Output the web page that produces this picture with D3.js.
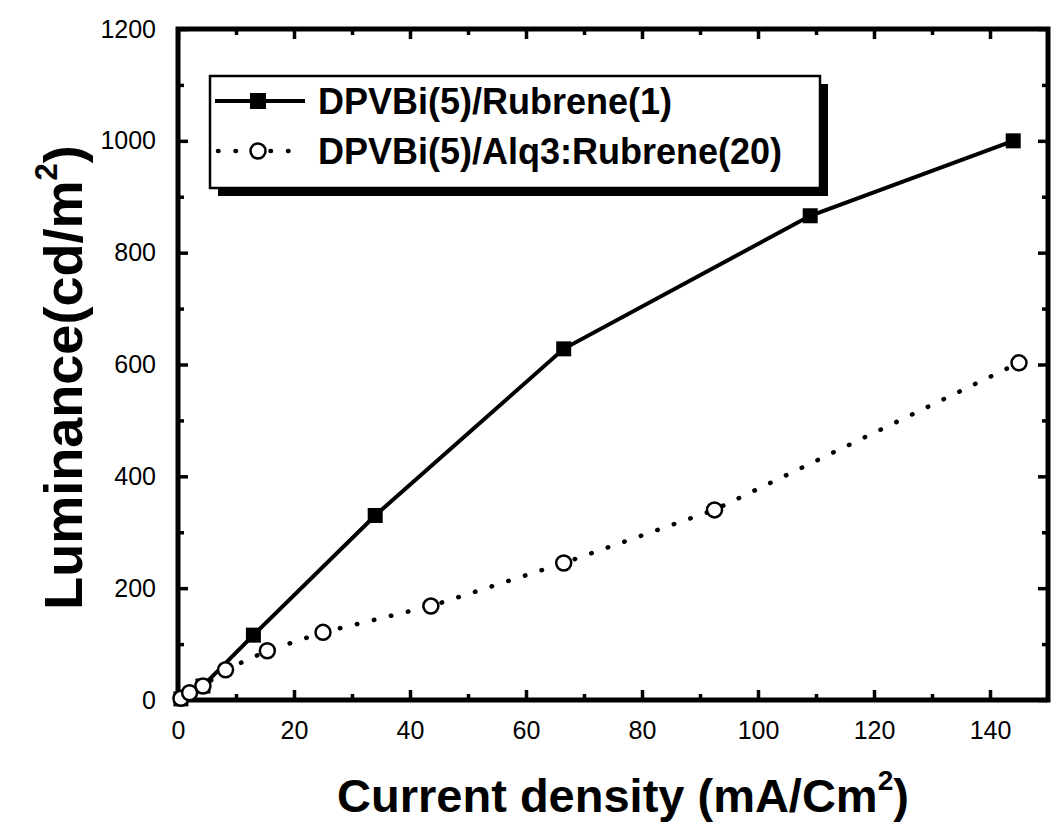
<!DOCTYPE html>
<html>
<meta charset="utf-8" />
<script src="https://d3js.org/d3.v7.min.js"></script>

<body>

    <style>
        body,
        html {
            margin: 0;
            padding: 0;
            background: #fff;
            overflow: hidden;
        }

        svg text {
            font-family: "Liberation Sans", Arial, sans-serif;
            fill: #000;
        }

        .tick text {
            font-size: 25px;
        }
    </style>

    <svg id="chart"></svg>

    <script>
        // values
        var rubreneX = [0.5, 4.3, 13, 34, 66.5, 109, 144];
        var rubreneY = [2, 25, 116, 330, 628, 866, 1000];
        var alqX = [0.5, 2, 4.3, 8.2, 15.4, 25, 43.6, 66.5, 92.5, 145];
        var alqY = [3, 13, 25, 54, 88, 121, 168, 245, 340, 603];

        var xTicks = [0, 20, 40, 60, 80, 100, 120, 140];
        var xMinor = [10, 30, 50, 70, 90, 110, 130];
        var yTicks = [0, 200, 400, 600, 800, 1000, 1200];
        var yMinor = [100, 300, 500, 700, 900, 1100];

        var seriesNames = ["DPVBi(5)/Rubrene(1)", "DPVBi(5)/Alq3:Rubrene(20)"];

        var width = 1051, height = 823;
        var margins = { top: 29, left: 178, bottom: 123, right: 3 };

        var svg = d3.select("#chart")
            .attr("width", width)
            .attr("height", height);

        var x = d3.scaleLinear().domain([0, 150]).range([margins.left, width - margins.right]);
        var y = d3.scaleLinear().domain([0, 1200]).range([height - margins.bottom, margins.top]);

        var x0 = x.range()[0], x1 = x.range()[1];
        var y0 = y.range()[0], y1 = y.range()[1];

        function styleAxis(g) {
            g.select(".domain").remove();
            g.selectAll(".tick line").attr("stroke", "#000").attr("stroke-width", 3.5);
        }

        // major ticks, pointing inward, labels on bottom and left only
        svg.append("g")
            .attr("transform", `translate(0, ${y0})`)
            .call(d3.axisBottom(x).tickValues(xTicks).tickSizeInner(-10).tickPadding(21).tickFormat(d3.format("d")))
            .call(styleAxis);

        svg.append("g")
            .attr("transform", `translate(${x0}, 0)`)
            .call(d3.axisLeft(y).tickValues(yTicks).tickSizeInner(-10).tickPadding(22).tickFormat(d3.format("d")))
            .call(styleAxis);

        svg.append("g")
            .attr("transform", `translate(0, ${y1})`)
            .call(d3.axisTop(x).tickValues(xTicks).tickSizeInner(-10).tickFormat(""))
            .call(styleAxis);

        svg.append("g")
            .attr("transform", `translate(${x1}, 0)`)
            .call(d3.axisRight(y).tickValues(yTicks).tickSizeInner(-10).tickFormat(""))
            .call(styleAxis);

        // minor ticks
        svg.append("g").attr("transform", `translate(0, ${y0})`)
            .call(d3.axisBottom(x).tickValues(xMinor).tickSizeInner(-6).tickFormat("")).call(styleAxis);
        svg.append("g").attr("transform", `translate(0, ${y1})`)
            .call(d3.axisTop(x).tickValues(xMinor).tickSizeInner(-6).tickFormat("")).call(styleAxis);
        svg.append("g").attr("transform", `translate(${x0}, 0)`)
            .call(d3.axisLeft(y).tickValues(yMinor).tickSizeInner(-6).tickFormat("")).call(styleAxis);
        svg.append("g").attr("transform", `translate(${x1}, 0)`)
            .call(d3.axisRight(y).tickValues(yMinor).tickSizeInner(-6).tickFormat("")).call(styleAxis);

        // frame
        svg.append("rect")
            .attr("x", x0)
            .attr("y", y1)
            .attr("width", x1 - x0)
            .attr("height", y0 - y1)
            .attr("fill", "none")
            .attr("stroke", "#000")
            .attr("stroke-width", 5);

        var rubrene = rubreneX.map(function (d, i) { return [d, rubreneY[i]]; });
        var alq = alqX.map(function (d, i) { return [d, alqY[i]]; });

        var line = d3.line()
            .x(function (d) { return x(d[0]); })
            .y(function (d) { return y(d[1]); });

        // dotted series
        svg.append("path")
            .datum(alq)
            .attr("d", line)
            .attr("fill", "none")
            .attr("stroke", "#000")
            .attr("stroke-width", 4.5)
            .attr("stroke-linecap", "round")
            .attr("stroke-dasharray", "0.5,17");

        // solid series
        svg.append("path")
            .datum(rubrene)
            .attr("d", line)
            .attr("fill", "none")
            .attr("stroke", "#000")
            .attr("stroke-width", 4);

        svg.selectAll(".sq")
            .data(rubrene)
            .enter().append("rect")
            .attr("class", "sq")
            .attr("x", function (d) { return x(d[0]) - 7.5; })
            .attr("y", function (d) { return y(d[1]) - 7.5; })
            .attr("width", 15)
            .attr("height", 15)
            .attr("fill", "#000");

        svg.selectAll(".circ")
            .data(alq)
            .enter().append("circle")
            .attr("class", "circ")
            .attr("cx", function (d) { return x(d[0]); })
            .attr("cy", function (d) { return y(d[1]); })
            .attr("r", 7.5)
            .attr("fill", "#fff")
            .attr("stroke", "#000")
            .attr("stroke-width", 2.5);

        // legend with drop shadow
        var legend = svg.append("g");
        legend.append("rect")
            .attr("x", 218).attr("y", 84).attr("width", 610).attr("height", 112)
            .attr("fill", "#000");
        legend.append("rect")
            .attr("x", 210).attr("y", 76).attr("width", 610).attr("height", 112)
            .attr("fill", "#fff").attr("stroke", "#000").attr("stroke-width", 2.5);

        var rows = [101, 151];
        legend.append("line")
            .attr("x1", 215).attr("x2", 305).attr("y1", rows[0]).attr("y2", rows[0])
            .attr("stroke", "#000").attr("stroke-width", 4);
        legend.append("rect")
            .attr("x", 250).attr("y", rows[0] - 8).attr("width", 16).attr("height", 16).attr("fill", "#000");
        legend.append("line")
            .attr("x1", 218).attr("x2", 305).attr("y1", rows[1]).attr("y2", rows[1])
            .attr("stroke", "#000").attr("stroke-width", 4.5)
            .attr("stroke-linecap", "round").attr("stroke-dasharray", "0.5,17");
        legend.append("circle")
            .attr("cx", 258).attr("cy", rows[1]).attr("r", 7.5)
            .attr("fill", "#fff").attr("stroke", "#000").attr("stroke-width", 2.5);

        legend.selectAll(".ltext")
            .data(seriesNames)
            .enter().append("text")
            .attr("class", "ltext")
            .attr("x", 318)
            .attr("y", function (d, i) { return rows[i] + 13; })
            .attr("font-size", 36)
            .attr("font-weight", "bold")
            .text(function (d) { return d; });

        // axis titles
        var xt = svg.append("text")
            .attr("x", (x0 + x1) / 2 + 10)
            .attr("y", 812)
            .attr("text-anchor", "middle")
            .attr("font-size", 47)
            .attr("font-weight", "bold");
        xt.append("tspan").text("Current density (mA/Cm");
        xt.append("tspan").attr("font-size", 28).attr("dy", -22).text("2");
        xt.append("tspan").attr("dy", 22).text(")");

        var yt = svg.append("text")
            .attr("transform", `translate(82, ${(y0 + y1) / 2 + 13}) rotate(-90)`)
            .attr("text-anchor", "middle")
            .attr("font-size", 54)
            .attr("font-weight", "bold");
        yt.append("tspan").text("Luminance(cd/m");
        yt.append("tspan").attr("font-size", 31).attr("dy", -25).text("2");
        yt.append("tspan").attr("dy", 25).text(")");
    </script>

</body>

</html>
